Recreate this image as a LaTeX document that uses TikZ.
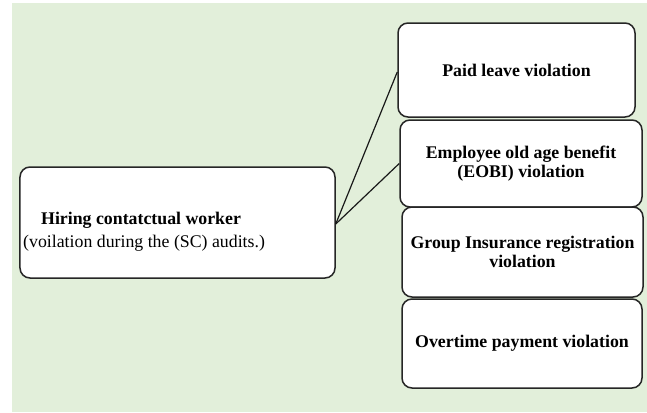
\documentclass[tikz,border=0pt]{standalone}
\usepackage{fontspec}
\setmainfont{Liberation Serif}
\definecolor{bggreen}{HTML}{E2EFDA}
\definecolor{boxline}{HTML}{262626}
\begin{document}
\begin{tikzpicture}[x=1bp,y=-1bp,
  box/.style={draw=boxline, line width=1.5bp, fill=white, rounded corners=10bp, inner sep=0pt, align=center,
    font=\fontsize{17.8bp}{18.5bp}\selectfont\bfseries},
  conn/.style={draw=black!90, line width=1.2bp}]
\useasboundingbox (0,0) rectangle (647,412);
\fill[bggreen] (12,3) rectangle (647,412);
% left box
\node[box, minimum width=315bp, minimum height=111bp] (hire) at (177.5,222.5) {};
\node[anchor=west, inner sep=0pt, align=left, font=\fontsize{17.8bp}{23bp}\selectfont] (hiretxt) at (23,231.5)
  {\hspace{18bp}\textbf{Hiring contatctual worker}\\(voilation during the (SC) audits.)};
% right boxes
\node[box, minimum width=237bp, minimum height=94bp] (paid) at (516.5,70) {Paid leave violation};
\node[box, minimum width=242bp, minimum height=87bp] (eobi) at (521,163.5) {Employee old age benefit\\(EOBI) violation};
\node[box, minimum width=241bp, minimum height=90bp] (group) at (522.5,252) {Group Insurance registration\\violation};
\node[box, minimum width=240bp, minimum height=89bp] (over) at (522,343.5) {Overtime payment violation};
% connectors
\coordinate (src) at ([yshift=-1.5bp]hire.east);
\draw[conn] (src) -- ([yshift=-2bp]paid.west);
\draw[conn] (src) -- (eobi.west);
\end{tikzpicture}
\end{document}
